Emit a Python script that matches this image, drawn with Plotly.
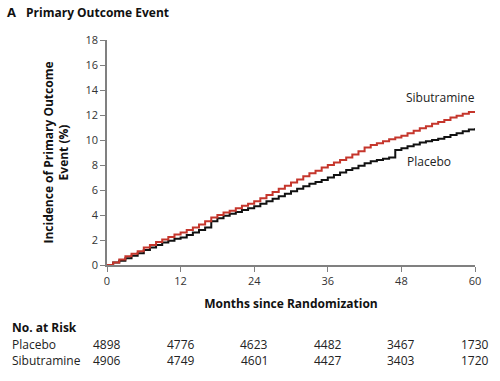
import plotly.graph_objects as go

months = list(range(0, 61))
sibutramine = [0, 0.2, 0.45, 0.7, 0.9, 1.1, 1.4, 1.6, 1.85, 2.05, 2.25, 2.45, 2.6, 2.8, 3.0, 3.25,
               3.5, 3.8, 4.0, 4.2, 4.35, 4.55, 4.75, 4.9, 5.1, 5.35, 5.6, 5.85, 6.1, 6.35, 6.6,
               6.85, 7.1, 7.35, 7.55, 7.8, 8.0, 8.2, 8.4, 8.6, 8.85, 9.1, 9.4, 9.6, 9.75, 9.9,
               10.05, 10.2, 10.35, 10.55, 10.75, 10.95, 11.1, 11.3, 11.45, 11.6, 11.8, 11.95,
               12.1, 12.25, 12.3]
placebo = [0, 0.2, 0.35, 0.55, 0.75, 0.95, 1.2, 1.4, 1.6, 1.8, 1.95, 2.1, 2.2, 2.4, 2.6, 2.8,
           3.0, 3.5, 3.75, 3.95, 4.1, 4.25, 4.4, 4.55, 4.7, 4.9, 5.1, 5.3, 5.5, 5.7, 5.9,
           6.1, 6.3, 6.5, 6.65, 6.8, 7.0, 7.2, 7.4, 7.6, 7.75, 7.95, 8.15, 8.3, 8.4, 8.5,
           8.6, 9.2, 9.35, 9.5, 9.65, 9.8, 9.9, 10.0, 10.1, 10.25, 10.4, 10.55, 10.7, 10.85, 10.95]

risk_months = [0, 12, 24, 36, 48, 60]
risk_placebo = [4898, 4776, 4623, 4482, 3467, 1730]
risk_sibutramine = [4906, 4749, 4601, 4427, 3403, 1720]

x_ticks = [0, 12, 24, 36, 48, 60]
y_ticks = [0, 2, 4, 6, 8, 10, 12, 14, 16, 18]

FONT = "Open Sans"
L, R, T, B = 107, 25, 40, 116
PW, PH = 500 - L - R, 381 - T - B


def px(xp):
    return (xp - L) / PW


def py(yp):
    return (381 - B - yp) / PH


fig = go.Figure()
fig.add_trace(go.Scatter(x=months, y=placebo, mode="lines", line=dict(shape="hv", color="#111111", width=2),
                         name="Placebo", showlegend=False))
fig.add_trace(go.Scatter(x=months, y=sibutramine, mode="lines", line=dict(shape="hv", color="#c5362c", width=2),
                         name="Sibutramine", showlegend=False))

fig.update_layout(
    width=500, height=381,
    margin=dict(l=L, r=R, t=T, b=B, autoexpand=False),
    paper_bgcolor="white", plot_bgcolor="white",
    font=dict(family=FONT, size=11, color="#222222"),
    xaxis=dict(range=[0, 60], tickvals=x_ticks, ticks="outside", ticklen=5, tickcolor="#808080",
               showline=True, linecolor="#808080", linewidth=1.5, showgrid=False, zeroline=False,
               automargin=False, tickfont=dict(size=11, color="#333333"),
               title=dict(text="<b>Months since Randomization</b>", font=dict(size=12, color="#111111"), standoff=13)),
    yaxis=dict(range=[0, 18], tickvals=y_ticks, ticks="outside", ticklen=5, tickcolor="#808080",
               showline=True, linecolor="#808080", linewidth=1.5, showgrid=False, zeroline=False,
               automargin=False, tickfont=dict(size=11, color="#333333"),
               title=dict(text="<b>Incidence of Primary Outcome<br>Event (%)</b>", font=dict(size=12, color="#111111"), standoff=14)),
)

fig.add_annotation(text="<b>A</b>", xref="paper", yref="paper", x=px(5), y=py(12),
                   xanchor="left", yanchor="middle", showarrow=False, font=dict(size=13, color="#111111"))
fig.add_annotation(text="<b>Primary Outcome Event</b>", xref="paper", yref="paper", x=px(24), y=py(12),
                   xanchor="left", yanchor="middle", showarrow=False, font=dict(size=12, color="#111111"))

fig.add_annotation(text="Sibutramine", x=54.3, y=13.4, xref="x", yref="y", showarrow=False,
                   font=dict(size=12, color="#222222"))
fig.add_annotation(text="Placebo", x=52.5, y=8.25, xref="x", yref="y", showarrow=False,
                   font=dict(size=12, color="#222222"))

fig.add_annotation(text="<b>No. at Risk</b>", xref="paper", yref="paper", x=px(10), y=py(327),
                   xanchor="left", yanchor="middle", showarrow=False, font=dict(size=12, color="#111111"))
fig.add_annotation(text="Placebo", xref="paper", yref="paper", x=px(10), y=py(344),
                   xanchor="left", yanchor="middle", showarrow=False, font=dict(size=12, color="#222222"))
fig.add_annotation(text="Sibutramine", xref="paper", yref="paper", x=px(10), y=py(360),
                   xanchor="left", yanchor="middle", showarrow=False, font=dict(size=12, color="#222222"))
for m, p, s in zip(risk_months, risk_placebo, risk_sibutramine):
    fig.add_annotation(text=str(p), x=m, xref="x", yref="paper", y=py(344), showarrow=False,
                       xanchor="center", yanchor="middle", font=dict(size=12, color="#222222"))
    fig.add_annotation(text=str(s), x=m, xref="x", yref="paper", y=py(360), showarrow=False,
                       xanchor="center", yanchor="middle", font=dict(size=12, color="#222222"))

fig.write_html("out.html", config={"displayModeBar": False},
               post_script="document.body.style.margin='0';document.body.style.overflow='hidden';")
